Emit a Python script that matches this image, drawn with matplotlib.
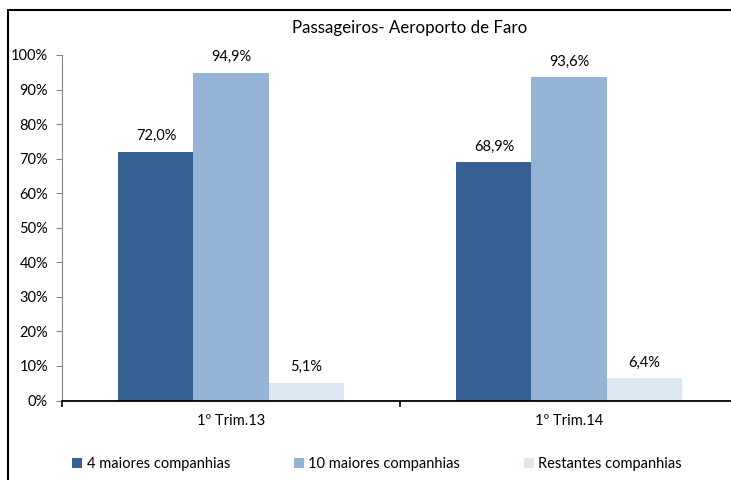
import numpy as np
import matplotlib.pyplot as plt
from matplotlib.patches import Rectangle
from matplotlib.ticker import FuncFormatter

plt.rcParams['font.family'] = ['Lato', 'DejaVu Sans']

# Data
categories = ['1º Trim.13', '1º Trim.14']
series_names = ['4 maiores companhias', '10 maiores companhias', 'Restantes companhias']
top4 = [72.0, 68.9]
top10 = [94.9, 93.6]
rest = [5.1, 6.4]
colors = ['#366092', '#95B3D7', '#DCE6F2']

fig = plt.figure(figsize=(7.31, 4.8), dpi=100)
W, H = 731, 480

# outer chart border (clipped on right/bottom like the original)
fig.patches.append(Rectangle((8 / W, -0.1), 1.2, 1 - 10 / H + 0.1, transform=fig.transFigure,
                             fill=False, edgecolor='black', linewidth=1.5))

ax = fig.add_axes([62 / W, 1 - 400.5 / H, 676 / W, (400.5 - 55) / H])

x = np.arange(len(categories))
w = 0.222
for i, (vals, col) in enumerate(zip([top4, top10, rest], colors)):
    pos = x + (i - 1) * w
    bars = ax.bar(pos, [v / 100 for v in vals], width=w, color=col, label=series_names[i], zorder=2)
    for b, v in zip(bars, vals):
        ax.text(b.get_x() + b.get_width() / 2, b.get_height() + 0.025,
                f'{v:.1f}%'.replace('.', ','), ha='center', va='bottom', fontsize=10.5)

ax.set_xlim(-0.5, 1.5)
ax.set_ylim(0, 1)
ax.set_yticks(np.arange(0, 1.01, 0.1))
ax.yaxis.set_major_formatter(FuncFormatter(lambda v, p: f'{v * 100:.0f}%'))
ax.set_xticks([-0.5, 0.5, 1.5])
ax.set_xticklabels([])
ax.set_xticks(x, minor=True)
ax.set_xticklabels(categories, minor=True)
ax.tick_params(axis='x', which='minor', length=0, pad=10, labelsize=10.5)
ax.tick_params(axis='x', which='major', length=4, direction='out', width=1.2, color='black')
ax.tick_params(axis='y', length=4, direction='out', color='#868686', labelsize=10.5, pad=6)

for s in ['top', 'right']:
    ax.spines[s].set_visible(False)
ax.spines['left'].set_color('#868686')
ax.spines['bottom'].set_color('black')
ax.spines['bottom'].set_linewidth(1.3)

fig.text(410 / W, 1 - 28 / H, 'Passageiros- Aeroporto de Faro', ha='center', va='center', fontsize=12.2)

ax.legend(loc='center', ncol=3, frameon=False, fontsize=10.5, handlelength=0.7, handleheight=0.7,
          handletextpad=0.3, columnspacing=4.35)
leg = ax.get_legend()
leg.set_bbox_to_anchor((377 / W, 1 - 464 / H), transform=fig.transFigure)

fig.savefig('out.png', dpi=100)
